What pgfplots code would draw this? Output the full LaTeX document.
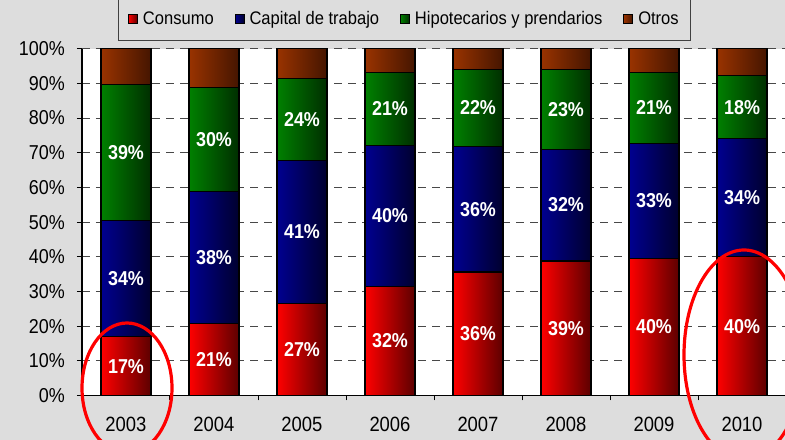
\documentclass[border=0pt]{standalone}
\usepackage{pgfplots}
\pgfplotsset{compat=1.18}
\usepackage{pgfplotstable}
\usetikzlibrary{backgrounds,calc}
\usepackage{fontspec}
\setmainfont{Liberation Sans}
\definecolor{bg}{HTML}{DDDDDD}
\definecolor{redL}{HTML}{FF0000}
\definecolor{redR}{HTML}{5C0000}
\definecolor{bluL}{HTML}{000090}
\definecolor{bluR}{HTML}{00002E}
\definecolor{grnL}{HTML}{008000}
\definecolor{grnR}{HTML}{002E00}
\definecolor{brnL}{HTML}{993300}
\definecolor{brnR}{HTML}{451500}
\definecolor{gridc}{HTML}{484848}
\pgfplotstableread{
x  c    cl  k    kl  h    hl  o    ol
0  16.9 17  33.6 34  39.2 39  10.3 10
1  20.8 21  38.0 38  30.0 30  11.2 11
2  26.6 27  41.1 41  23.7 24  8.6  9
3  31.4 32  40.8 40  21.0 21  6.8  7
4  35.6 36  36.1 36  22.4 22  5.9  6
5  38.8 39  32.2 32  23.1 23  5.9  6
6  39.6 40  33.1 33  20.5 21  6.8  7
7  40.0 40  34.0 34  18.3 18  7.7  8
}\data
\pgfplotsset{
  segbar/.style={ybar, bar width=50bp, bar shift=0pt, draw=black, line width=1.2bp, forget plot},
  seglab/.style={draw=none, mark=none, forget plot, point meta=explicit,
    nodes near coords={\pgfmathprintnumber{\pgfplotspointmeta}\%},
    every node near coord/.style={anchor=center, inner sep=0pt, font=\bfseries\fontsize{18}{20}\selectfont, text=white, yscale=1.12}},
}
\begin{document}
\begin{tikzpicture}[x=1bp,y=1bp]
\begin{axis}[
  scale only axis, width=704bp, height=346.8bp,
  xmin=-0.5, xmax=7.5, ymin=0, ymax=100,
  /pgf/number format/assume math mode=true,
  axis background/.style={fill=white},
  axis x line*=bottom, axis y line*=left,
  axis line style={-, black, line width=1.2bp},
  ytick={0,10,...,100},
  yticklabel={\pgfmathprintnumber{\tick}\%},
  xtick={0,...,7}, xticklabels={2003,2004,2005,2006,2007,2008,2009,2010},
  minor xtick={0.5,1.5,...,6.5},
  tick align=outside,
  major tick length=5bp, minor tick length=5bp,
  major x tick style={draw=none},
  minor x tick style={black, line width=1bp},
  major y tick style={black, line width=1bp},
  ymajorgrids,
  major y grid style={gridc, dash pattern=on 8bp off 6bp, line width=1bp},
  yticklabel style={font=\fontsize{18}{20}\selectfont, yscale=1.12, inner sep=0pt, xshift=-12bp},
  xticklabel style={font=\fontsize{18.5}{20}\selectfont, yscale=1.12, inner sep=0pt, yshift=-15bp},
  legend columns=4,
  legend style={at={(0.458,1.023)}, anchor=south, draw=black!75, fill=bg, line width=0.8bp,
    font=\fontsize{16.6}{18}\selectfont, inner xsep=10bp, inner ysep=12bp,
    nodes={yscale=1.1},
    /tikz/every even column/.append style={column sep=19bp},
    /tikz/every odd column/.append style={column sep=3bp}},
  legend image code/.code={\draw[#1, draw=black, line width=0.8bp] (0bp,-4.5bp) rectangle (9bp,4.5bp);},
]
\coordinate (O) at (rel axis cs:0,0);
\pgfplotsinvokeforeach{0,...,7}{
  \addplot[segbar, left color=brnL, right color=brnR, restrict x to domain=#1:#1]
    table[x=x, y expr=\thisrow{c}+\thisrow{k}+\thisrow{h}+\thisrow{o}] {\data};
  \addplot[segbar, left color=grnL, right color=grnR, restrict x to domain=#1:#1]
    table[x=x, y expr=\thisrow{c}+\thisrow{k}+\thisrow{h}] {\data};
  \addplot[segbar, left color=bluL, right color=bluR, restrict x to domain=#1:#1]
    table[x=x, y expr=\thisrow{c}+\thisrow{k}] {\data};
  \addplot[segbar, left color=redL, right color=redR, restrict x to domain=#1:#1]
    table[x=x, y=c] {\data};
}
\addplot[seglab] table[x=x, y expr=\thisrow{c}/2, meta=cl] {\data};
\addplot[seglab] table[x=x, y expr=\thisrow{c}+\thisrow{k}/2, meta=kl] {\data};
\addplot[seglab] table[x=x, y expr=\thisrow{c}+\thisrow{k}+\thisrow{h}/2, meta=hl] {\data};
\addlegendimage{left color=redL, right color=redR}
\addlegendentry{Consumo}
\addlegendimage{left color=bluL, right color=bluR}
\addlegendentry{Capital de trabajo}
\addlegendimage{left color=grnL, right color=grnR}
\addlegendentry{Hipotecarios y prendarios}
\addlegendimage{left color=brnL, right color=brnR}
\addlegendentry{Otros}
\end{axis}
\begin{scope}[on background layer]
\fill[bg] ($(O)+(-82,-44.5)$) rectangle ++(785,440);
\end{scope}
\draw[red, line width=3.2bp] ($(O)+(45,7.5)$) ellipse [x radius=45, y radius=65];
\draw[red, line width=3.2bp] ($(O)+(662,40.5)$) ellipse [x radius=60, y radius=105];
\pgfresetboundingbox
\path[use as bounding box] ($(O)+(-82,-44.5)$) rectangle ++(785,440);
\end{tikzpicture}
\end{document}
